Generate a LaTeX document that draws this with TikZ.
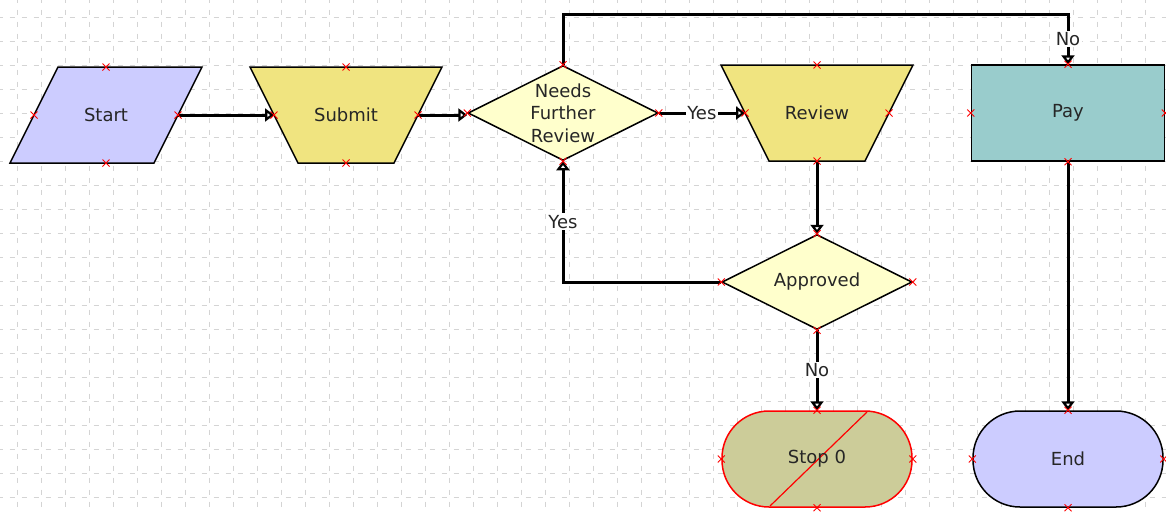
\documentclass[tikz,border=0pt]{standalone}
\usepackage{fontspec}
\setmainfont{DejaVu Sans}
\usetikzlibrary{shapes.geometric,arrows.meta}
\definecolor{lav}{RGB}{204,204,255}
\definecolor{khaki}{RGB}{240,228,128}
\definecolor{paleyel}{RGB}{255,255,204}
\definecolor{teal1}{RGB}{153,204,204}
\definecolor{olive1}{RGB}{204,204,153}
\definecolor{gridc}{RGB}{212,212,212}
\pgfdeclarelayer{gridlayer}
\pgfdeclarelayer{shapelayer}
\pgfsetlayers{gridlayer,shapelayer,main}
\tikzset{
  base/.style={draw=black, line width=1.5pt, inner sep=0pt, font=\fontsize{18}{22}\selectfont, text=black!85},
  holder/.style={inner sep=0pt, minimum width=192pt, minimum height=96pt, font=\fontsize{18}{22}\selectfont, text=black!85},
  txt/.style={inner sep=0pt, align=center, font=\fontsize{18}{22.5}\selectfont, text=black!85},
  outline/.style={draw=black, line width=1.5pt, line join=miter},
  dia/.style={base, diamond, minimum width=190pt, minimum height=95pt, fill=paleyel},
  box/.style={base, rectangle, minimum width=193pt, minimum height=96pt, fill=teal1},
  term/.style={base, rectangle, rounded corners=47pt, minimum width=190pt, minimum height=96pt},
  conn/.style={line width=3pt, -{Triangle[open,length=9pt,width=13pt]}},
  lbl/.style={fill=white, inner sep=1.5pt, font=\fontsize{18}{22}\selectfont, text=black!85},
  xmk/.pic={\draw[red, line width=0.9pt] (-3.5,-3.5)--(3.5,3.5) (-3.5,3.5)--(3.5,-3.5);}
}
\begin{document}
\begin{tikzpicture}[x=1pt,y=-1pt]
\useasboundingbox (0,0) rectangle (1166,512);
\begin{pgfonlayer}{gridlayer}
\fill[white] (0,0) rectangle (1166,512);
\foreach \gx in {17,41,...,1166} {\draw[gridc, line width=1pt, dash pattern=on 5pt off 7pt, dash phase=2.5pt] (\gx,0) -- (\gx,512);}
\foreach \gy in {17,41,...,512} {\draw[gridc, line width=1pt, dash pattern=on 5pt off 7pt, dash phase=2.5pt] (0,\gy) -- (1166,\gy);}
\end{pgfonlayer}
% nodes
\node[holder] (start) at (106,115) {Start};
\node[holder] (submit) at (346,115) {Submit};
\node[dia] (nfr) at (563,113) {};
\node[txt] (nfrlbl) at (nfr.center) {Needs\\Further\\Review};
\node[holder] (review) at (817,113) {Review};
\node[box] (pay) at (1068,113) {Pay};
\node[dia] (app) at (817,282) {};
\node[txt] (applbl) at (app.center) {Approved};
\node[term, draw=red, fill=olive1] (stop) at (817,459) {};
\draw[red, line width=1.2pt] (867,412) -- (770,506);
\node[txt] (stoplbl) at (stop.center) {Stop 0};
\node[term, fill=lav] (end) at (1068,459) {End};
% outlines of slanted shapes
\begin{pgfonlayer}{shapelayer}
\filldraw[outline, fill=lav] ([shift={(-48,-48)}]start.center) -- ([shift={(96,-48)}]start.center)
  -- ([shift={(48,48)}]start.center) -- ([shift={(-96,48)}]start.center) -- cycle;
\foreach \n in {submit,review} {
  \filldraw[outline, fill=khaki] ([shift={(-96,-48)}]\n.center) -- ([shift={(96,-48)}]\n.center)
    -- ([shift={(48,48)}]\n.center) -- ([shift={(-48,48)}]\n.center) -- cycle;
}
\end{pgfonlayer}
% side midpoints of slanted shapes
\foreach \n in {start,submit,review} {
  \coordinate (\n E) at ([xshift=72pt]\n.center);
  \coordinate (\n W) at ([xshift=-72pt]\n.center);
  \coordinate (\n N) at ([yshift=48pt]\n.center);
  \coordinate (\n S) at ([yshift=-48pt]\n.center);
}
% connectors
\draw[conn] (startE) -- (submitW);
\draw[conn] (submitE) -- (submitE -| nfr.west);
\draw[conn] (nfr.east) -- node[lbl] (y1) {Yes} (nfr.east -| reviewW);
\coordinate (up) at (563,14);
\draw[conn] (nfr.north) -- (up) -| node[lbl, pos=0.75] (n1) {No} (pay.north);
\draw[conn] (reviewS) -- (app.north);
\draw[conn] (app.west) -| node[lbl, pos=0.75] (y2) {Yes} (nfr.south);
\draw[conn] (app.south) -- node[lbl] (n2) {No} (stop.north);
\draw[conn] (pay.south) -- (end.north);
% connection markers
\foreach \n in {start,submit,review} {
  \pic at (\n N) {xmk};
  \pic at (\n S) {xmk};
  \pic at (\n E) {xmk};
  \pic at (\n W) {xmk};
}
\foreach \n in {nfr,pay,app,stop,end} {
  \pic at (\n.north) {xmk};
  \pic at (\n.south) {xmk};
  \pic at (\n.east) {xmk};
  \pic at (\n.west) {xmk};
}
\end{tikzpicture}
\end{document}
